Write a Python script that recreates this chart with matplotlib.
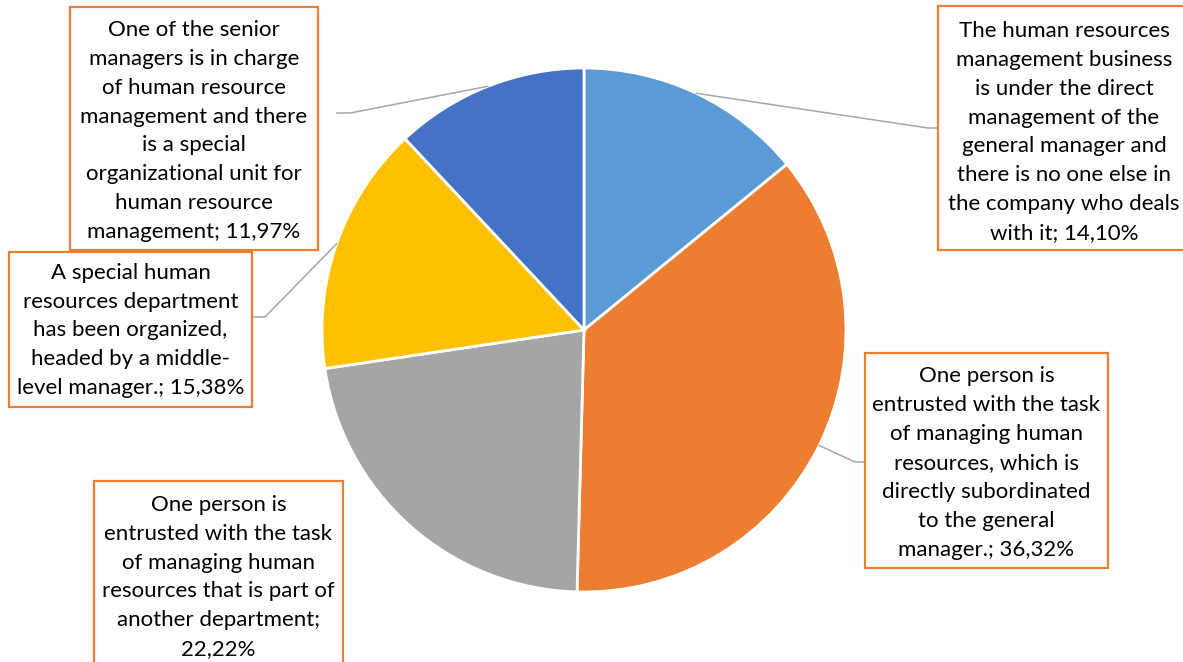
import numpy as np
import matplotlib
matplotlib.use("Agg")
import matplotlib.pyplot as plt
from matplotlib.patches import Rectangle

# ---------------------------------------------------------------------------
# Data (clockwise from 12 o'clock)
# ---------------------------------------------------------------------------
shares = [14.10, 36.32, 22.22, 15.38, 11.97]
colors = ["#5B9BD5", "#ED7D31", "#A5A5A5", "#FFC000", "#4472C4"]
labels = [
    "The human resources\nmanagement business\nis under the direct\nmanagement of the\n"
    "general manager and\nthere is no one else in\nthe company who deals\nwith it; 14,10%",
    "One person is\nentrusted with the task\nof managing human\nresources, which is\n"
    "directly subordinated\nto the general\nmanager.; 36,32%",
    "One person is\nentrusted with the task\nof managing human\nresources that is part of\n"
    "another department;\n22,22%",
    "A special human\nresources department\nhas been organized,\nheaded by a middle-\n"
    "level manager.; 15,38%",
    "One of the senior\nmanagers is in charge\nof human resource\nmanagement and there\n"
    "is a special\norganizational unit for\nhuman resource\nmanagement; 11,97%",
]

# ---------------------------------------------------------------------------
# Layout in pixel space (y measured from top, flipped below)
# ---------------------------------------------------------------------------
W, H = 1183, 662
CX, CY, R = 584, 330, 262
# label boxes: (x0, y0_top, x1, y1_bottom)
BOXES = [(938, 6, 1190, 250),
         (865, 353, 1108, 568),
         (94, 481, 343, 680),
         (9, 252, 252, 407),
         (70, 7, 318, 250)]
# leader line elbows (None = no leader)
ELBOWS = [[(928, 128), (938, 128)],
          [(855, 462), (865, 462)],
          None,
          [(265, 317), (253, 317)],
          [(350, 113), (337, 113)]]
TEXT_Y = [132, 463, 577, 330.5, 131]

plt.rcParams["font.family"] = ["Lato", "DejaVu Sans"]

fig = plt.figure(figsize=(W / 100, H / 100), dpi=100)
ax = fig.add_axes([0, 0, 1, 1])

ax.pie(shares, colors=colors, startangle=90, counterclock=False,
       center=(CX, H - CY), radius=R,
       wedgeprops=dict(edgecolor="white", linewidth=2))
ax.set_xlim(0, W)
ax.set_ylim(0, H)
ax.set_aspect("equal")
ax.axis("off")

# mid-angles of each slice (degrees clockwise from top)
cum = np.cumsum([0] + shares) / sum(shares) * 360
mids = (cum[:-1] + cum[1:]) / 2

for i, lab in enumerate(labels):
    x0, y0, x1, y1 = BOXES[i]
    ax.add_patch(Rectangle((x0, H - y1), x1 - x0, y1 - y0, facecolor="white",
                           edgecolor="#ED7D31", linewidth=1.6, zorder=3))
    ax.text((x0 + x1) / 2, H - TEXT_Y[i], lab, ha="center", va="center",
            fontsize=16, linespacing=1.56, color="black", zorder=4)
    if ELBOWS[i] is not None:
        a = np.deg2rad(mids[i])
        sx, sy = CX + R * np.sin(a), CY - R * np.cos(a)
        pts = [(sx, sy)] + ELBOWS[i]
        ax.plot([p[0] for p in pts], [H - p[1] for p in pts],
                color="#A6A6A6", lw=1.1, zorder=2)

fig.savefig("out.png", dpi=100)
plt.close(fig)
